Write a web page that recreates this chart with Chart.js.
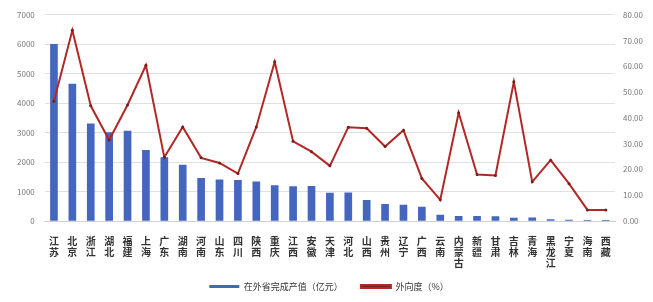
<!DOCTYPE html>
<html>
<head>
<meta charset="utf-8">
<script src="https://cdn.jsdelivr.net/npm/chart.js@4/dist/chart.umd.min.js"></script>
<style>
  html, body { margin: 0; padding: 0; background: #fff; }
  #wrap { width: 653px; height: 302px; }
</style>
</head>
<body>
<div id="wrap"><canvas id="myChart" width="653" height="302"></canvas></div>
<script>
// provinces
const provinces = ['江苏', '北京', '浙江', '湖北', '福建', '上海', '广东', '湖南', '河南', '山东',
        '四川', '陕西', '重庆', '江西', '安徽', '天津', '河北', '山西', '贵州', '辽宁',
        '广西', '云南', '内蒙古', '新疆', '甘肃', '吉林', '青海', '黑龙江', '宁夏', '海南', '西藏'];
// 在外省完成产值 (亿元)
const output = [6000, 4650, 3300, 3000, 3050, 2400, 2150, 1900, 1450, 1400,
        1380, 1330, 1200, 1170, 1180, 950, 960, 700, 570, 540,
        470, 200, 160, 160, 150, 100, 110, 50, 30, 20, 15];
// 外向度 (%)
const ratio = [46.5, 74, 44.7, 31.4, 45, 60.4, 24.7, 36.5, 24.5, 22.5,
        18.4, 36.5, 61.8, 30.9, 26.9, 21.4, 36.4, 36, 28.9, 35.2,
        16.5, 8.2, 42, 18, 17.7, 54, 15.2, 23.6, 14.5, 4.3, 4.3];
const leftTicks = [0, 1000, 2000, 3000, 4000, 5000, 6000, 7000];
const rightTicks = [0, 10, 20, 30, 40, 50, 60, 70, 80];

// stack characters vertically
const labels = provinces.map(p => p.split(''));

const data = {
        labels: labels,
        datasets: [{
                type: 'line',
                label: '外向度（%）',
                data: ratio,
                yAxisID: 'y1',
                borderColor: 'rgb(178, 40, 40)',
                backgroundColor: 'rgb(120, 30, 30)',
                borderWidth: 2,
                pointRadius: 1.5,
                pointBorderWidth: 0,
                tension: 0
        }, {
                type: 'bar',
                label: '在外省完成产值（亿元）      ',
                data: output,
                yAxisID: 'y',
                backgroundColor: 'rgb(68, 102, 190)',
                barThickness: 7
        }]
};

const tickFont = { family: 'Noto Sans CJK SC', size: 8 };

const config = {
        data: data,
        options: {
                responsive: false,
                animation: false,
                layout: { padding: { left: 7, right: 2, top: 6, bottom: 1 } },
                plugins: {
                        legend: {
                                position: 'bottom',
                                reverse: true,
                                labels: {
                                        boxWidth: 30,
                                        boxHeight: 3,
                                        padding: 6,
                                        color: '#333',
                                        font: { family: 'Noto Sans CJK SC', size: 9 }
                                }
                        },
                        tooltip: { enabled: false }
                },
                scales: {
                        x: {
                                grid: { display: false },
                                border: { color: '#d0d0d0' },
                                ticks: {
                                        color: '#333',
                                        maxRotation: 0,
                                        autoSkip: false,
                                        padding: 7,
                                        font: { family: 'Noto Sans CJK SC', size: 10, weight: 'bold', lineHeight: 1.1 }
                                }
                        },
                        y: {
                                position: 'left',
                                min: 0,
                                max: 7000,
                                afterBuildTicks: axis => { axis.ticks = leftTicks.map(v => ({ value: v })); },
                                grid: { color: '#e0e0e0', drawTicks: false },
                                border: { display: false },
                                ticks: { color: '#777', font: tickFont, padding: 10, callback: v => String(v) }
                        },
                        y1: {
                                position: 'right',
                                min: 0,
                                max: 80,
                                afterBuildTicks: axis => { axis.ticks = rightTicks.map(v => ({ value: v })); },
                                grid: { display: false, drawTicks: false },
                                border: { display: false },
                                ticks: {
                                        color: '#777',
                                        font: tickFont,
                                        padding: 8,
                                        callback: v => v.toFixed(2)
                                }
                        }
                }
        }
};

const myChart = new Chart(document.getElementById('myChart'), config);
</script>
</body>
</html>
